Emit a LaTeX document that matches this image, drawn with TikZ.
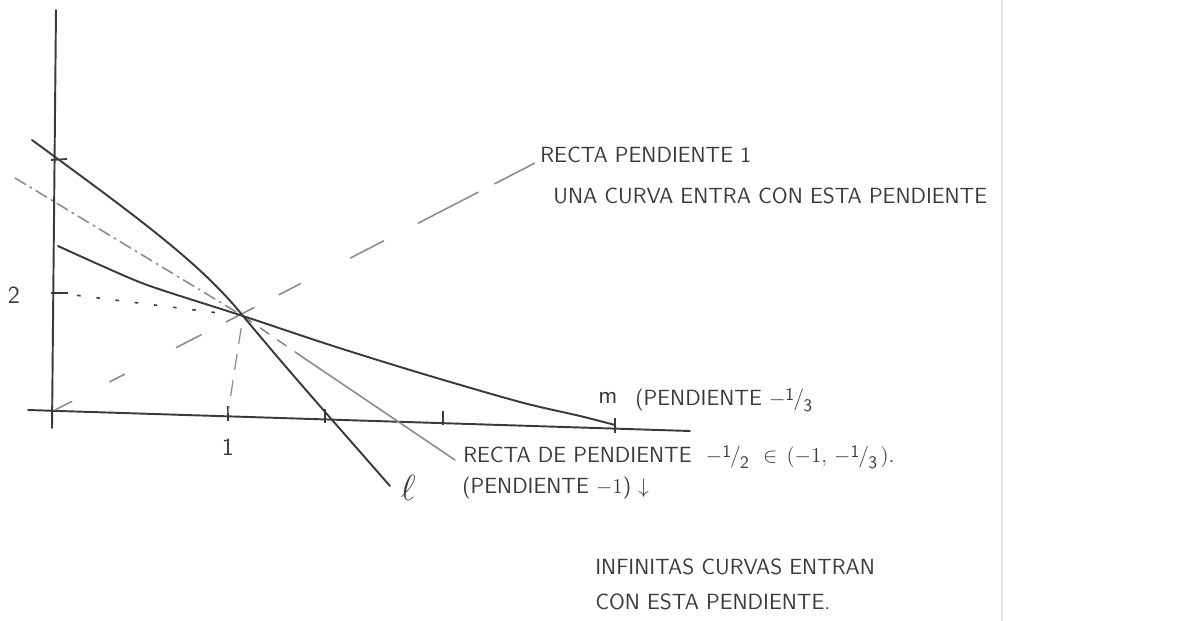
\documentclass[tikz,border=0pt]{standalone}
\usepackage{amsmath,amssymb}
\usepackage{xcolor}
\usepackage{tikz}
\usetikzlibrary{arrows.meta, positioning}

\definecolor{tinta}{HTML}{3A3A3A}
\definecolor{lapiz}{HTML}{8C8C8C}

% fraccion escrita a mano
\newcommand{\fmano}[2]{\raisebox{3pt}{\fontsize{10}{10}\selectfont #1}\kern-0.5pt/\kern-0.5pt\raisebox{-3pt}{\fontsize{10}{10}\selectfont #2}}

\begin{document}
\begin{tikzpicture}[
    x=0.02cm, y=-0.02cm,
    eje/.style={line width=1.1pt, tinta, line cap=round},
    recta/.style={line width=1.1pt, tinta, line cap=round},
    guia/.style={line width=0.9pt, lapiz, line cap=round},
    marca/.style={line width=1pt, tinta},
    nota/.style={font=\sffamily\fontsize{12.5}{14}\selectfont, text=tinta,
        anchor=west, inner sep=0pt},
    cifra/.style={font=\sffamily\fontsize{14}{16}\selectfont, text=tinta,
        inner sep=0pt},
]
\useasboundingbox (0,0) rectangle (1196,621);

% Borde del papel
\draw[black!10, line width=0.6pt] (1002,0) -- (1002,621);

% Ejes
\coordinate (ysup) at (56,10);
\coordinate (yinf) at (52,428);
\coordinate (xizq) at (28,410);
\coordinate (xder) at (690,431);
\draw[eje] (ysup) -- (yinf);
\draw[eje] (xizq) -- (xder);

% Marcas en los ejes
\coordinate (ty1) at (58,160);
\coordinate (ty2) at (58,293);
\coordinate (tx1) at (228,413);
\coordinate (tx2) at (325,416);
\coordinate (tx3) at (443,418);
\coordinate (tx4) at (615,425);
\draw[marca] (51,160) -- (67,159);
\draw[marca] (51,293) -- (68,293);
\draw[marca] (228,406) -- (228,421);
\draw[marca] (325,409) -- (325,423);
\draw[marca] (443,411) -- (443,425);
\draw[marca] (615,418) -- (615,433);

\node[cifra] (uno) at (228,447) {1};
\node[cifra] (dos) at (14,295) {2};

% Punto de corte
\coordinate (P) at (243,316);

% Recta de pendiente 1
\coordinate (a1) at (55,410);
\coordinate (a2) at (537,162);
\draw[guia, dash pattern=on 10.7pt off 24.3pt on 9.5pt off 33.2pt
    on 15.9pt off 16pt on 17.8pt off 16pt on 13.8pt off 31.9pt
    on 21.2pt off 22.1pt on 38.4pt off 10.7pt on 25.5pt off 10pt]
    (a1) -- (a2);

% Guias hacia el punto
\draw[tinta, line width=0.9pt, dash pattern=on 2pt off 9pt, shorten >=16pt]
    (ty2) -- (P);
\draw[lapiz, line width=0.7pt, dash pattern=on 9pt off 6pt, shorten <=7pt]
    (P) -- (tx1);

% Recta de pendiente -1/2
\coordinate (g1) at (15,178);
\coordinate (g2) at (298,354);
\coordinate (g3) at (455,460);
\draw[guia, dash pattern=on 7pt off 3pt on 1pt off 3pt] (g1) -- (P);
\draw[guia, dash pattern=on 6pt off 6pt] (P) -- (g2);
\draw[guia] (g2) -- (g3);

% Recta l (pendiente -1)
\coordinate (l1) at (32,140);
\coordinate (l2) at (390,486);
\draw[recta] (l1) .. controls (130,212) and (200,262) .. (P)
    .. controls (290,372) .. (l2);

% Recta m (pendiente -1/3)
\draw[recta] plot[smooth, tension=0.5] coordinates
    {(58,246) (100,265) (150,286) (P) (330,345) (420,373)
     (520,402) (580,416) (615,425)};

% Textos
\node[nota] (rpend1) at (540,155) {RECTA PENDIENTE 1};
\node[nota] (curva) at (553,196) {UNA CURVA ENTRA CON ESTA PENDIENTE};

\node[cifra, anchor=west] (m) at (598,398) {m};
\node[nota] (pendm) at (635,400) {(PENDIENTE $-$\fmano{1}{3}};

\node[nota] (rmedio) at (463,457)
    {RECTA DE PENDIENTE \ $-$\fmano{1}{2} \ $\in\,(-1,\,-$\fmano{1}{3}$\,)$.};

\node[cifra, font=\fontsize{20}{22}\selectfont] (l) at (408,488) {$\ell$};
\node[nota] (pendl) at (462,488) {(PENDIENTE $-1$) $\downarrow$};

\node[nota] (inf1) at (595,567) {INFINITAS CURVAS ENTRAN};
\node[nota] (inf2) at (595,602) {CON ESTA PENDIENTE.};

\end{tikzpicture}
\end{document}
